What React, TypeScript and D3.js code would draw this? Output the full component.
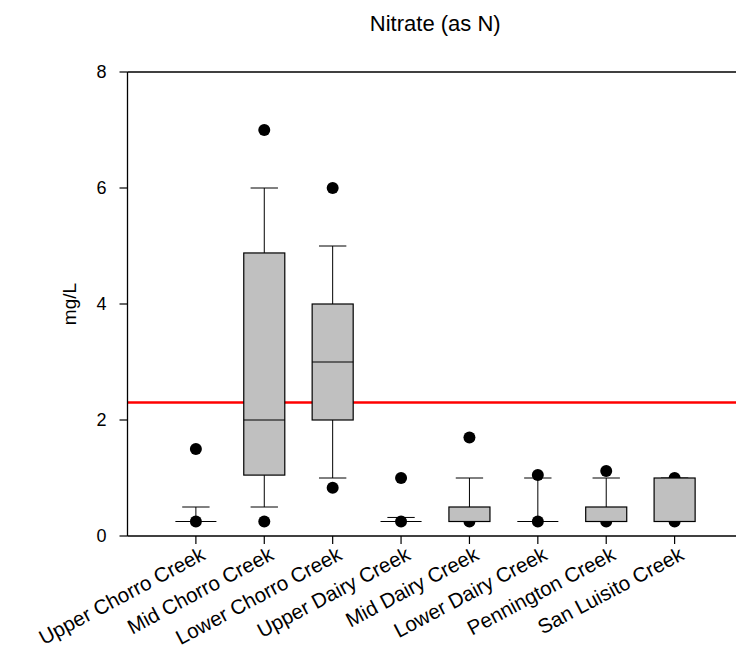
import React from "react";
import * as d3 from "d3";

const categories = [
  "Upper Chorro Creek",
  "Mid Chorro Creek",
  "Lower Chorro Creek",
  "Upper Dairy Creek",
  "Mid Dairy Creek",
  "Lower Dairy Creek",
  "Pennington Creek",
  "San Luisito Creek",
];
const q1 = [0.25, 1.05, 2.0, 0.25, 0.25, 0.25, 0.25, 0.25];
const medians = [0.25, 2.0, 3.0, 0.25, 0.25, 0.25, 0.25, 0.25];
const q3 = [0.25, 4.88, 4.0, 0.25, 0.5, 0.25, 0.5, 1.0];
const whiskerLow = [0.25, 0.5, 1.0, 0.25, 0.25, 0.25, 0.25, 0.25];
const whiskerHigh = [0.5, 6.0, 5.0, 0.32, 1.0, 1.0, 1.0, 1.0];
const outliers = [
  [1.5, 0.25],
  [7.0, 0.25],
  [6.0, 0.83],
  [1.0, 0.25],
  [1.7, 0.25],
  [1.05, 0.25],
  [1.12, 0.25],
  [1.0, 0.25],
];
const yTicks = [0, 2, 4, 6, 8];
const threshold = 2.3;
const title = "Nitrate (as N)";
const yLabel = "mg/L";

const W = 736;
const H = 653;
const FONT = "'Liberation Sans', Arial, sans-serif";

export default function App() {
  const x = d3.scaleLinear().domain([0, 9]).range([127.5, 743]);
  const y = d3.scaleLinear().domain([0, 8]).range([536, 72]);
  const step = x(1) - x(0);
  const boxW = step * 0.6;
  const capW = step * 0.4;
  const left = x(0);

  return (
    <svg
      width={W}
      height={H}
      style={{ position: "absolute", left: 0, top: 0, background: "#fff" }}
      fontFamily={FONT}
    >
      <rect width={W} height={H} fill="#fff" />
      {/* title */}
      <text x={(x(0) + x(9)) / 2} y={31} textAnchor="middle" fontSize={22}>
        {title}
      </text>
      {/* y label */}
      <text
        transform={`translate(76,${(y(0) + y(8)) / 2}) rotate(-90)`}
        textAnchor="middle"
        fontSize={19}
      >
        {yLabel}
      </text>
      {/* threshold line */}
      <line x1={left} x2={W} y1={y(threshold)} y2={y(threshold)} stroke="#ff0000" strokeWidth={2.5} />

      {/* outlier dots (under boxes) */}
      {outliers.map((pts, i) =>
        pts.map((v, j) => (
          <circle key={`o${i}-${j}`} cx={x(i + 1)} cy={y(v)} r={6} fill="#000" />
        ))
      )}
      {/* whiskers */}
      {categories.map((c, i) => {
        const cx = x(i + 1);
        return (
          <g key={`w${i}`} stroke="#000" strokeWidth={1}>
            <line x1={cx} x2={cx} y1={y(q3[i])} y2={y(whiskerHigh[i])} />
            <line x1={cx - capW / 2} x2={cx + capW / 2} y1={y(whiskerHigh[i])} y2={y(whiskerHigh[i])} />
            <line x1={cx} x2={cx} y1={y(q1[i])} y2={y(whiskerLow[i])} />
            <line x1={cx - capW / 2} x2={cx + capW / 2} y1={y(whiskerLow[i])} y2={y(whiskerLow[i])} />
          </g>
        );
      })}
      {/* boxes */}
      {categories.map((c, i) => {
        const cx = x(i + 1);
        return (
          <g key={`b${i}`}>
            <rect
              x={cx - boxW / 2}
              y={y(q3[i])}
              width={boxW}
              height={Math.max(0, y(q1[i]) - y(q3[i]))}
              fill="#c0c0c0"
              stroke="#000"
              strokeWidth={1.2}
            />
            <line x1={cx - boxW / 2} x2={cx + boxW / 2} y1={y(medians[i])} y2={y(medians[i])} stroke="#000" strokeWidth={1.2} />
          </g>
        );
      })}

      {/* frame / axes */}
      <g stroke="#000" strokeWidth={1.3} fill="none">
        <line x1={left} x2={left} y1={y(8)} y2={y(0)} />
        <line x1={left} x2={W} y1={y(0)} y2={y(0)} />
        <line x1={left} x2={W} y1={y(8)} y2={y(8)} />
      </g>
      {/* y ticks */}
      {yTicks.map((t) => (
        <g key={`yt${t}`}>
          <line x1={left - 8} x2={left} y1={y(t)} y2={y(t)} stroke="#000" strokeWidth={1.2} />
          <text x={left - 21} y={y(t)} dy="0.36em" textAnchor="end" fontSize={18}>
            {t}
          </text>
        </g>
      ))}
      {/* x ticks and labels */}
      {categories.map((c, i) => {
        const cx = x(i + 1);
        return (
          <g key={`xt${i}`}>
            <line x1={cx} x2={cx} y1={y(0)} y2={y(0) + 8} stroke="#000" strokeWidth={1.2} />
            <text
              transform={`translate(${cx + 4},${y(0) + 10}) rotate(-28)`}
              textAnchor="end"
              dy="0.7em"
              fontSize={20.5}
            >
              {c}
            </text>
          </g>
        );
      })}
    </svg>
  );
}
